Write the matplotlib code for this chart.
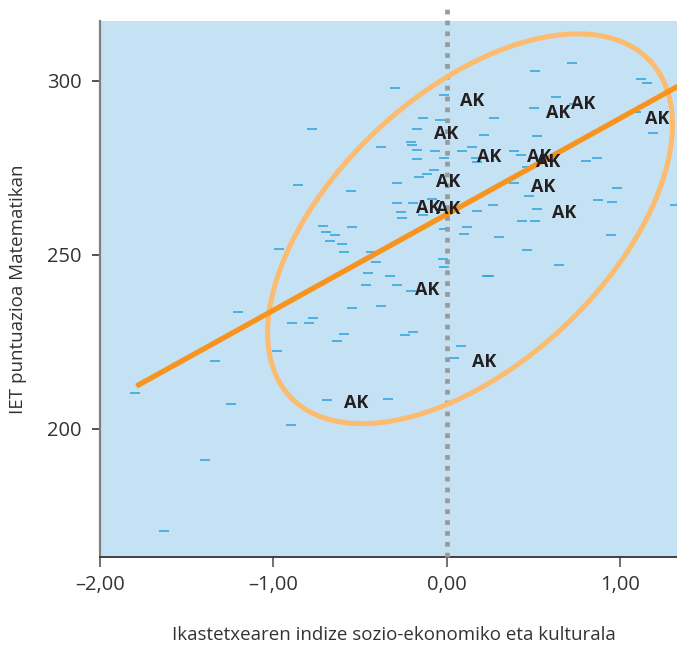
import numpy as np
import matplotlib
matplotlib.use("Agg")
import matplotlib.pyplot as plt
from matplotlib.ticker import FuncFormatter

# ---- data ----
school_x = [-0.300, -0.017, -0.138, -0.040, -0.778, -0.173, 0.213, -0.380, -0.208, -0.202,
            -0.173, -0.069, 0.086, 0.144, -0.017, 0.167, 0.173, -0.173, -0.075, -0.115,
            -0.161, -0.859, -0.288, -0.553, -0.086, 0.720, 0.507, 1.118, 1.153, 0.628,
            0.732, 0.501, 0.271, 1.089, 1.187, 0.519, 0.386, 0.427, 0.801, 0.865,
            0.461, 0.386, 0.473, 0.980, 0.265, 0.519, 0.432, 0.507, 0.300, 0.461,
            0.945, 0.646, 0.242, 0.870, 0.951, 1.314, -0.288, -0.196, -0.265, -0.138,
            -0.259, -0.715, -0.548, -0.697, -0.646, -0.674, -0.605, -0.594, -0.438, -0.409,
            -0.455, -0.329, -0.467, -0.288, -0.208, -0.023, -0.017, -0.017, 0.115, 0.098,
            0.173, 0.231, -0.548, -0.380, -0.772, -0.893, -0.795, -0.594, -0.634, -0.196,
            -0.242, 0.081, 0.040, -0.340, -0.968, -1.205, -0.980, -1.337, -1.798, -1.245,
            -0.899, -1.395, -1.631, -0.692]
school_y = [298.0, 296.0, 289.4, 288.8, 286.2, 286.2, 284.5, 281.0, 282.5, 281.6,
            280.2, 279.9, 279.9, 281.0, 277.9, 277.9, 276.7, 277.6, 274.4, 273.3,
            272.4, 270.1, 270.7, 268.4, 266.1, 305.2, 302.9, 300.6, 299.4, 295.4,
            293.4, 292.2, 289.4, 291.1, 285.1, 284.2, 279.9, 278.7, 277.0, 277.9,
            275.3, 270.7, 267.0, 269.3, 264.4, 263.2, 259.8, 259.8, 255.2, 251.4,
            255.7, 247.1, 244.0, 265.8, 265.2, 264.4, 264.9, 264.9, 262.4, 261.5,
            260.6, 258.3, 258.0, 256.6, 255.7, 254.0, 253.2, 250.9, 250.9, 248.0,
            244.8, 244.0, 241.4, 241.4, 239.7, 248.9, 246.6, 257.5, 258.0, 256.0,
            262.6, 244.0, 234.8, 235.3, 231.9, 230.5, 230.5, 227.3, 225.3, 227.9,
            227.0, 223.9, 220.4, 208.6, 251.7, 233.6, 222.4, 219.5, 210.3, 207.2,
            201.1, 191.1, 170.7, 208.3]

ak_x = [0.144, -0.006, 0.640, 0.784, 1.210, 0.242, 0.530, 0.582, 0.006, 0.553,
        -0.110, 0.006, 0.674, -0.115, 0.213, -0.524]
ak_y = [294.3, 284.8, 290.8, 293.4, 289.1, 278.2, 278.2, 276.7, 271.0, 269.5,
        263.5, 263.2, 262.1, 240.0, 219.3, 207.5]
ak_label = "AK"

# regression line
reg_x_range = [-1.79, 1.40]
reg_slope = 27.6
reg_intercept = 261.7

# ellipse (center and conjugate semi-axes, data units)
ell_center = (0.133, 257.5)
ell_u = (1.038, 48.2)
ell_v = (-0.533, 28.5)

x_ticks = [-2, -1, 0, 1]
y_ticks = [200, 250, 300]
x_label = "Ikastetxearen indize sozio-ekonomiko eta kulturala"
y_label = "IET puntuazioa Matematikan"

# ---- figure ----
plt.rcParams['font.family'] = ['Open Sans', 'DejaVu Sans']
fig = plt.figure(figsize=(6.77, 6.48), dpi=100)
ax = fig.add_axes([100/677, 91/648, 577/677, 536/648])
ax.set_facecolor('#c4e2f3')
ax.set_xlim(-2.0, 1.326)
ax.set_ylim(163.2, 317.2)

ax.plot(school_x, school_y, linestyle='none', marker='_', markersize=7,
        markeredgewidth=1.1, color='#2aa3dc', zorder=2)

# vertical dotted line at 0
ax.plot([0, 0], [163.2, 321.3], color='#9a9a9a', linewidth=3.4,
        linestyle=(0, (1.0, 1.3)), dash_capstyle='butt', clip_on=False, zorder=3)

# ellipse
t = np.linspace(0, 2*np.pi, 400)
ex = ell_center[0] + ell_u[0]*np.cos(t) + ell_v[0]*np.sin(t)
ey = ell_center[1] + ell_u[1]*np.cos(t) + ell_v[1]*np.sin(t)
ax.plot(ex, ey, color='#fdbb70', linewidth=3.6, zorder=4)

# regression line
rx = np.array(reg_x_range)
ax.plot(rx, reg_intercept + reg_slope*rx, color='#f7941d', linewidth=3.8,
        solid_capstyle='butt', zorder=5)

for xx, yy in zip(ak_x, ak_y):
    ax.text(xx, yy, ak_label, ha='center', va='center', fontsize=13,
            fontweight='bold', color='#231f20', zorder=6)

# axes styling
for s in ['top', 'right']:
    ax.spines[s].set_visible(False)
ax.spines['left'].set_color('#808080')
ax.spines['left'].set_linewidth(1.6)
ax.spines['bottom'].set_color('#333333')
ax.spines['bottom'].set_linewidth(1.3)
ax.set_xticks(x_ticks)
ax.set_yticks(y_ticks)
ax.xaxis.set_major_formatter(FuncFormatter(
    lambda v, p: ("\u2013" if v < 0 else "") + f"{abs(v):.2f}".replace('.', ',')))
ax.yaxis.set_major_formatter(FuncFormatter(lambda v, p: f"{int(v)}"))
ax.tick_params(axis='x', length=7, width=1.3, color='#666666', pad=6,
               labelsize=14.5, labelcolor='#333333')
ax.tick_params(axis='y', length=6, width=1.3, color='#444444', pad=7,
               labelsize=14.5, labelcolor='#333333')

fig.text(394/677, 1 - 635/648, x_label, ha='center', va='center',
         fontsize=13.5, color='#333333')
fig.text(18/677, 1 - 289/648, y_label, ha='center', va='center', rotation=90,
         fontsize=13.5, color='#333333')

fig.savefig('out.png', dpi=100)
